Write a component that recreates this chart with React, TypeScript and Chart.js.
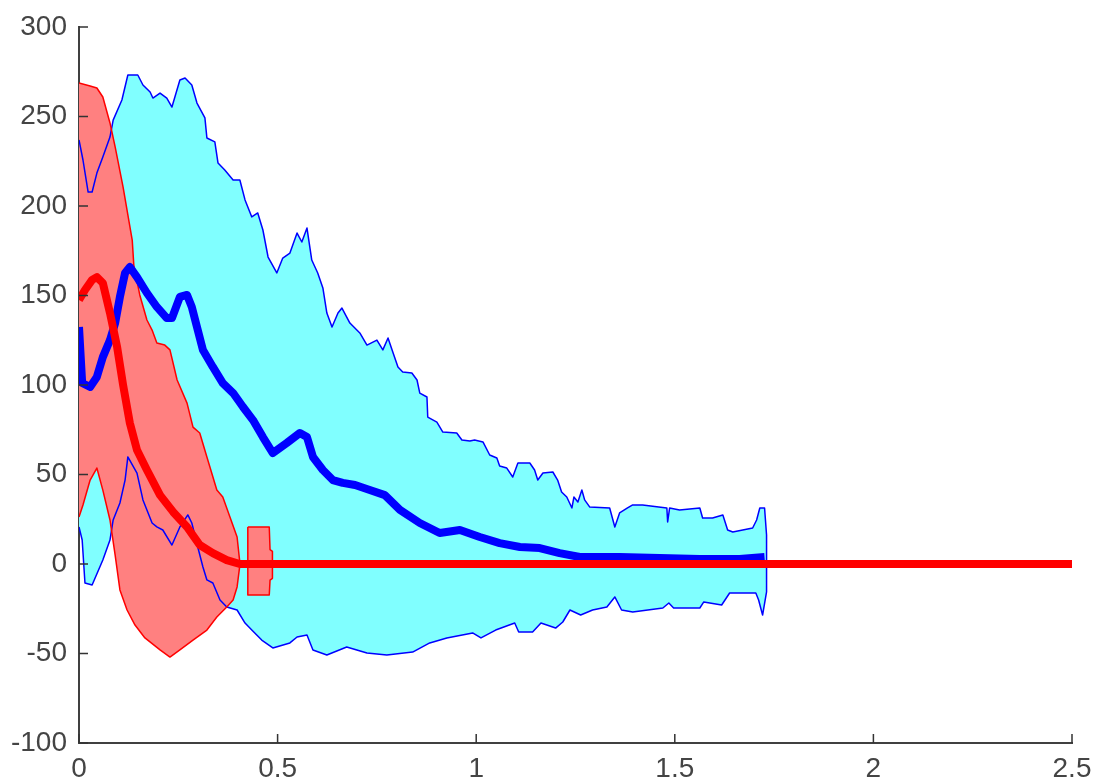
import React, { useEffect, useRef } from "react";
import { Chart, registerables } from "chart.js";

Chart.register(...registerables);

type P = [number, number];

// Upper and lower bound of the blue (cyan) band
const cyanUpper: P[] = [
  [0, 236.9], [0.01, 225.7], [0.023, 207.8], [0.033, 207.8], [0.045, 218.4], [0.06, 227.4],
  [0.078, 238.5], [0.086, 248.0], [0.108, 259.2], [0.123, 273.2], [0.148, 273.2], [0.161, 267.6],
  [0.179, 263.7], [0.186, 260.3], [0.204, 263.1], [0.221, 260.3], [0.234, 255.3], [0.254, 270.4],
  [0.267, 271.5], [0.284, 267.6], [0.297, 257.5], [0.317, 249.2], [0.322, 238.0], [0.342, 235.8],
  [0.35, 224.0], [0.367, 220.1], [0.388, 214.5], [0.405, 214.5], [0.418, 203.4], [0.435, 193.9],
  [0.45, 196.1], [0.463, 186.6], [0.476, 171.5], [0.498, 162.6], [0.513, 170.9], [0.531, 173.7],
  [0.549, 184.9], [0.561, 179.9], [0.574, 187.7], [0.586, 169.8], [0.601, 162.6], [0.614, 154.2],
  [0.624, 140.2], [0.637, 132.4], [0.652, 140.2], [0.662, 143.0], [0.682, 134.6], [0.707, 129.1],
  [0.725, 122.3], [0.75, 125.1], [0.765, 119.6], [0.778, 126.3], [0.79, 118.4], [0.803, 110.1],
  [0.815, 107.3], [0.838, 106.7], [0.851, 102.8], [0.858, 95.5], [0.876, 93.3], [0.878, 82.1],
  [0.901, 79.3], [0.916, 73.7], [0.951, 73.2], [0.964, 69.3], [0.984, 68.7], [0.996, 69.3],
  [1.017, 68.2], [1.034, 60.9], [1.052, 59.2], [1.059, 54.7], [1.077, 53.6], [1.092, 48.6],
  [1.105, 56.4], [1.135, 56.4], [1.147, 52.5], [1.155, 46.9], [1.168, 50.8], [1.193, 51.4],
  [1.205, 46.9], [1.215, 40.2], [1.228, 37.4], [1.241, 31.3], [1.246, 37.4], [1.256, 34.6],
  [1.266, 41.3], [1.273, 35.8], [1.286, 31.8], [1.336, 31.3], [1.349, 20.7], [1.361, 28.5],
  [1.381, 31.3], [1.394, 33.0], [1.419, 33.0], [1.48, 31.3], [1.482, 23.5], [1.487, 31.3],
  [1.512, 30.2], [1.563, 31.3], [1.57, 25.7], [1.595, 25.7], [1.621, 27.4], [1.633, 19.0],
  [1.646, 17.9], [1.696, 20.1], [1.706, 24.6], [1.714, 31.3], [1.726, 31.3], [1.731, 16.2],
];

const cyanLower: P[] = [
  [0, 20.7], [0.008, 13.4], [0.015, -10.6], [0.033, -11.7], [0.06, 2.2], [0.078, 13.4],
  [0.086, 24.6], [0.103, 34.1], [0.116, 46.9], [0.123, 59.8], [0.146, 50.8], [0.161, 35.8],
  [0.184, 22.9], [0.196, 20.7], [0.211, 19.0], [0.234, 10.6], [0.254, 20.7], [0.274, 27.4],
  [0.284, 22.9], [0.299, 9.5], [0.312, -1.7], [0.322, -8.9], [0.337, -10.6], [0.355, -20.1],
  [0.372, -24.0], [0.398, -25.7], [0.418, -33.0], [0.435, -36.9], [0.46, -42.5], [0.488, -46.9],
  [0.531, -44.1], [0.549, -40.8], [0.574, -39.7], [0.589, -48.0], [0.624, -50.8], [0.674, -46.4],
  [0.725, -49.7], [0.775, -50.8], [0.84, -49.2], [0.883, -44.1], [0.926, -41.3], [0.991, -38.5],
  [1.012, -41.3], [1.049, -36.9], [1.097, -33.0], [1.107, -38.0], [1.142, -38.0], [1.163, -33.0],
  [1.2, -35.8], [1.218, -32.4], [1.236, -25.7], [1.263, -28.5], [1.293, -25.7], [1.329, -24.0],
  [1.349, -18.4], [1.366, -25.7], [1.394, -26.8], [1.47, -24.6], [1.485, -21.8], [1.497, -24.6],
  [1.563, -24.6], [1.573, -21.2], [1.618, -22.9], [1.638, -16.2], [1.704, -16.2], [1.711, -20.1],
  [1.721, -28.5], [1.731, -15.6],
];

const blueMean: P[] = [
  [0, 132.4], [0.008, 101.1], [0.028, 98.9], [0.045, 104.5], [0.06, 115.6], [0.078, 125.1],
  [0.091, 134.6], [0.103, 149.2], [0.116, 162.6], [0.128, 165.9], [0.146, 160.3], [0.171, 151.4],
  [0.196, 143.6], [0.221, 137.4], [0.234, 137.4], [0.254, 149.2], [0.272, 150.3], [0.284, 143.6],
  [0.297, 132.4], [0.312, 119.6], [0.337, 110.1], [0.362, 101.1], [0.388, 95.5], [0.413, 87.7],
  [0.438, 80.4], [0.463, 70.9], [0.488, 62.0], [0.523, 67.6], [0.556, 73.2], [0.574, 70.9],
  [0.589, 59.8], [0.614, 52.5], [0.639, 46.9], [0.664, 45.3], [0.695, 44.1], [0.732, 41.3],
  [0.77, 38.5], [0.808, 30.2], [0.858, 22.9], [0.908, 17.3], [0.959, 19.0], [1.009, 15.1],
  [1.059, 11.7], [1.11, 9.5], [1.16, 8.9], [1.21, 6.1], [1.261, 3.9], [1.361, 3.9],
  [1.462, 3.4], [1.563, 2.8], [1.663, 2.8], [1.726, 3.9],
];

// Red band
const redUpper: P[] = [
  [0, 268.7], [0.028, 267.0], [0.045, 265.9], [0.06, 260.9], [0.078, 246.4], [0.091, 233.0],
  [0.111, 210.6], [0.123, 195.0], [0.134, 181.0], [0.138, 167.0], [0.153, 150.3], [0.171, 136.3],
  [0.184, 130.7], [0.196, 123.5], [0.216, 122.3], [0.229, 119.6], [0.247, 102.8], [0.272, 89.9],
  [0.287, 76.5], [0.304, 73.2], [0.322, 59.8], [0.347, 41.3], [0.362, 37.4], [0.38, 26.3],
  [0.398, 15.1], [0.405, 0.6],
];

const redLower: P[] = [
  [0, 26.3], [0.01, 33.0], [0.028, 46.9], [0.045, 53.6], [0.06, 41.3], [0.078, 24.6],
  [0.091, 5.0], [0.103, -14.5], [0.121, -25.7], [0.141, -34.1], [0.166, -41.3], [0.204, -48.0],
  [0.229, -52.0], [0.254, -48.0], [0.287, -42.5], [0.322, -36.9], [0.347, -29.6], [0.372, -24.0],
  [0.388, -20.1], [0.398, -12.8], [0.405, -0.6],
];

const redMean: P[] = [
  [0, 147.5], [0.015, 153.1], [0.033, 158.7], [0.045, 160.3], [0.06, 157.0], [0.078, 140.2],
  [0.096, 121.2], [0.111, 100.0], [0.128, 78.8], [0.146, 63.7], [0.171, 52.5], [0.204, 38.5],
  [0.237, 29.1], [0.272, 20.7], [0.304, 10.6], [0.337, 6.1], [0.372, 2.2], [0.405, 0],
  [2.5, 0],
];

// Small red patch
const rectUpper: P[] = [[0.425, 20.7], [0.479, 20.7], [0.481, 8.0], [0.487, 7.0]];
const rectLower: P[] = [[0.425, -17.3], [0.479, -17.3], [0.481, -9.0], [0.487, -8.0]];

const xTicks = [0, 0.5, 1, 1.5, 2, 2.5];
const yTicks = [-100, -50, 0, 50, 100, 150, 200, 250, 300];

const pts = (a: P[]) => a.map(([x, y]) => ({ x, y }));
const outline = (u: P[], l: P[]) => pts([...u, ...[...l].reverse()]);

const FONT = { family: '"Liberation Sans", Arial, sans-serif', size: 28 };
const TICK_LEN = 9;

// Inward tick marks, placed with the scales' own pixel mapping
const inwardTicks = {
  id: "inwardTicks",
  afterDraw(chart: any) {
    const { ctx, chartArea, scales } = chart;
    ctx.save();
    ctx.strokeStyle = "#333";
    ctx.lineWidth = 1.5;
    ctx.beginPath();
    for (const v of xTicks) {
      const px = scales.x.getPixelForValue(v);
      ctx.moveTo(px, chartArea.bottom);
      ctx.lineTo(px, chartArea.bottom - TICK_LEN);
    }
    for (const v of yTicks) {
      const py = scales.y.getPixelForValue(v);
      ctx.moveTo(chartArea.left, py);
      ctx.lineTo(chartArea.left + TICK_LEN, py);
    }
    ctx.stroke();
    ctx.restore();
  },
};

export default function App() {
  const ref = useRef<HTMLCanvasElement | null>(null);

  useEffect(() => {
    document.body.style.margin = "0";
    const canvas = ref.current;
    if (!canvas) return;
    const line = {
      pointRadius: 0,
      pointHoverRadius: 0,
      tension: 0,
      borderJoinStyle: "round" as const,
    };
    const chart = new Chart(canvas, {
      type: "line",
      data: {
        datasets: [
          { ...line, label: "red mean", data: pts(redMean), borderColor: "#ff0000", borderWidth: 8, fill: false, order: 0 },
          { ...line, label: "blue mean", data: pts(blueMean), borderColor: "#0000ff", borderWidth: 8, fill: false, order: 1 },
          { ...line, label: "red edge", data: outline(redUpper, redLower), borderColor: "#ff0000", borderWidth: 1.5, fill: false, order: 2 },
          { ...line, label: "patch edge", data: [...outline(rectUpper, rectLower), { x: rectUpper[0][0], y: rectUpper[0][1] }], borderColor: "#ff0000", borderWidth: 1.5, fill: false, order: 2 },
          { ...line, label: "blue edge", data: outline(cyanUpper, cyanLower), borderColor: "#0000ff", borderWidth: 1.5, fill: false, order: 3 },
          { ...line, label: "red band", data: pts(redUpper), borderColor: "rgba(0,0,0,0)", borderWidth: 0, backgroundColor: "#ff8080", fill: 6, order: 4 },
          { ...line, label: "red band low", data: pts(redLower), borderColor: "rgba(0,0,0,0)", borderWidth: 0, fill: false, order: 4 },
          { ...line, label: "patch", data: pts(rectUpper), borderColor: "rgba(0,0,0,0)", borderWidth: 0, backgroundColor: "#ff8080", fill: 8, order: 4 },
          { ...line, label: "patch low", data: pts(rectLower), borderColor: "rgba(0,0,0,0)", borderWidth: 0, fill: false, order: 4 },
          { ...line, label: "blue band", data: pts(cyanUpper), borderColor: "rgba(0,0,0,0)", borderWidth: 0, backgroundColor: "#80ffff", fill: 10, order: 5 },
          { ...line, label: "blue band low", data: pts(cyanLower), borderColor: "rgba(0,0,0,0)", borderWidth: 0, fill: false, order: 5 },
        ],
      },
      options: {
        animation: false,
        responsive: false,
        devicePixelRatio: 1,
        events: [],
        layout: { padding: { left: 0, top: 27, right: 21, bottom: 0 } },
        plugins: {
          legend: { display: false },
          tooltip: { enabled: false },
          filler: { drawTime: "beforeDatasetsDraw", propagate: false },
        },
        scales: {
          x: {
            type: "linear",
            min: 0,
            max: 2.5,
            z: 1,
            afterBuildTicks: (s: any) => {
              s.ticks = xTicks.map((v) => ({ value: v }));
            },
            afterFit: (s: any) => {
              s.height = 35;
              s.paddingLeft = 0;
              s.paddingRight = 0;
            },
            grid: { drawOnChartArea: false, drawTicks: false, tickLength: 0 },
            border: { display: true, color: "#404040", width: 2 },
            ticks: {
              padding: 9,
              color: "#444",
              font: FONT,
              maxRotation: 0,
              autoSkip: false,
              callback: (v: any) => String(v),
            },
          },
          y: {
            type: "linear",
            min: -100,
            max: 300,
            z: 1,
            afterBuildTicks: (s: any) => {
              s.ticks = yTicks.map((v) => ({ value: v }));
            },
            afterFit: (s: any) => {
              s.width = 79;
              s.paddingTop = 0;
              s.paddingBottom = 0;
            },
            grid: { drawOnChartArea: false, drawTicks: false, tickLength: 0 },
            border: { display: true, color: "#404040", width: 2 },
            ticks: { padding: 12, color: "#444", font: FONT, autoSkip: false, callback: (v: any) => String(v) },
          },
        },
      },
      plugins: [inwardTicks],
    } as any);
    return () => chart.destroy();
  }, []);

  return (
    <div style={{ width: 1093, height: 778, position: "relative" }}>
      <canvas ref={ref} width={1093} height={778} style={{ display: "block" }} />
    </div>
  );
}
